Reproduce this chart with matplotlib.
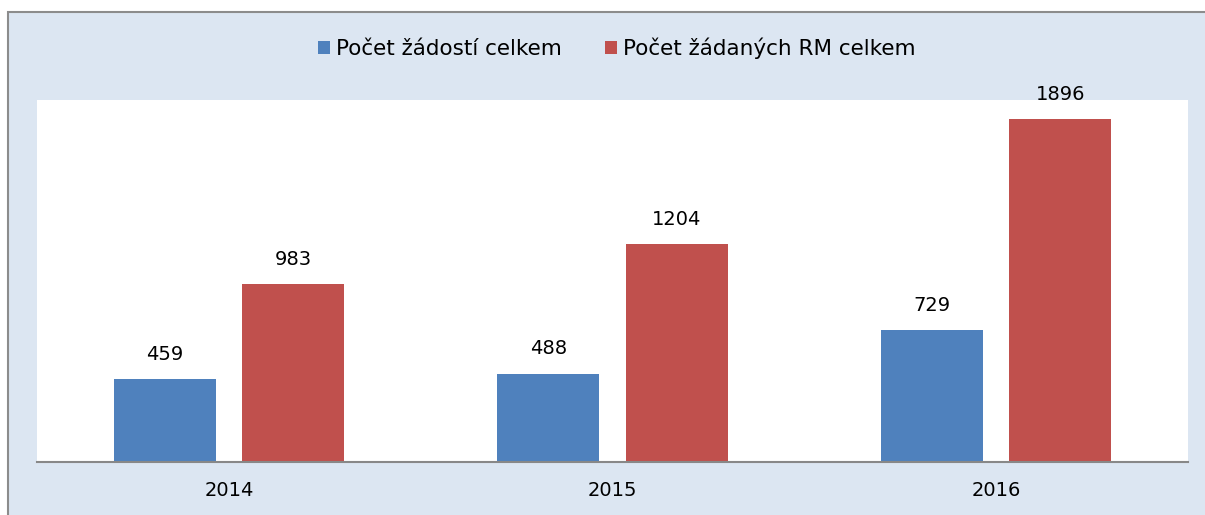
import matplotlib.pyplot as plt
from matplotlib.patches import Rectangle
import numpy as np

years = ['2014', '2015', '2016']
zadosti = [459, 488, 729]
zadane_rm = [983, 1204, 1896]
labels = ['Počet žádostí celkem', 'Počet žádaných RM celkem']

W, H = 1205, 515
fig = plt.figure(figsize=(W / 100, H / 100), dpi=100)
fig.patch.set_facecolor('white')
plt.rcParams['font.family'] = ['DejaVu Sans']

# light blue chart area with grey frame (runs past right/bottom edge)
fig.add_artist(Rectangle((8 / W, -0.05), 1.1, (H - 12) / H + 0.05,
                         transform=fig.transFigure, facecolor='#DCE6F2',
                         edgecolor='#8C8C8C', linewidth=1.5, zorder=0))

ax = fig.add_axes([37 / W, (H - 462) / H, (1188 - 37) / W, (462 - 100) / H])
ax.set_facecolor('white')

x = np.arange(len(years))
bw = 0.266
off = 0.167
b1 = ax.bar(x - off, zadosti, bw, color='#4F81BD', label=labels[0], zorder=2)
b2 = ax.bar(x + off, zadane_rm, bw, color='#C0504D', label=labels[1], zorder=2)

for bars in (b1, b2):
    for r in bars:
        ax.annotate(str(int(r.get_height())), (r.get_x() + r.get_width() / 2, r.get_height()),
                    xytext=(0, 11), textcoords='offset points', ha='center', va='bottom',
                    fontsize=14, annotation_clip=False)

ax.set_xlim(-0.5, 2.5)
ax.set_ylim(0, 2000)
ax.set_xticks(x)
ax.set_xticklabels(years, fontsize=14)
ax.tick_params(axis='x', length=0, pad=14)
ax.set_yticks([])
for s in ['top', 'right', 'left']:
    ax.spines[s].set_visible(False)
ax.spines['bottom'].set_color('#888888')
ax.spines['bottom'].set_linewidth(1.5)

fig.legend(loc='center', bbox_to_anchor=(617 / W, (H - 48) / H), ncol=2, frameon=False,
           fontsize=15.5, handlelength=0.55, handleheight=0.55, handletextpad=0.3,
           columnspacing=2.0)

fig.savefig('out.png', dpi=100)
